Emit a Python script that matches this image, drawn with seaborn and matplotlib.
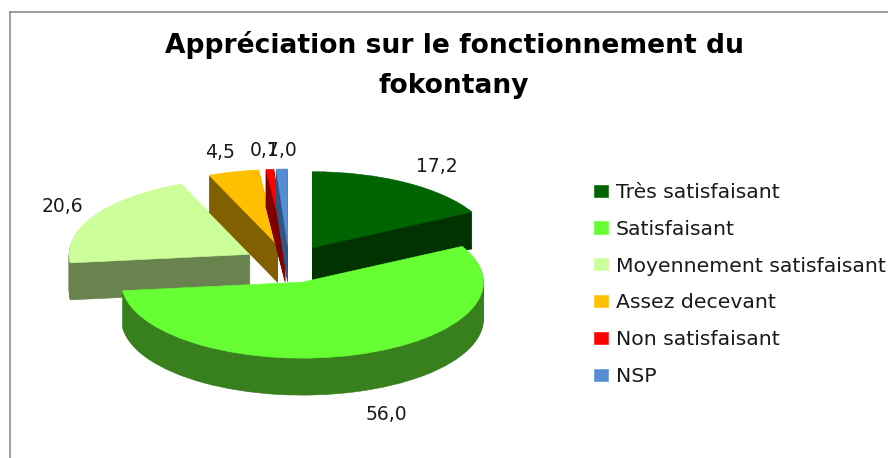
import matplotlib
matplotlib.use("Agg")
import matplotlib.pyplot as plt
import numpy as np
import seaborn as sns

categories = ["Très satisfaisant", "Satisfaisant", "Moyennement satisfaisant",
              "Assez decevant", "Non satisfaisant", "NSP"]
values = [17.2, 56.0, 20.6, 4.5, 0.7, 1.0]
title = "Appréciation sur le fonctionnement du\nfokontany"

top_colors = ["#006400", "#66FF33", "#CCFF99", "#FFC000", "#FF0000", "#558ED5"]
wall_colors = ["#003300", "#38801E", "#69834F", "#806000", "#800000", "#2F5582"]

sns.set_theme(style="white")
plt.rcParams["font.family"] = ["DejaVu Sans"]

W, H = 888, 458
fig = plt.figure(figsize=(W / 100, H / 100), dpi=100, facecolor="white")

# cadre du graphique (gauche + haut seulement, le reste sort de l'image)
cadre = fig.add_axes([9.5 / W, -0.1, 1.1, 1.1 - 12.5 / H])
cadre.set(xticks=[], yticks=[])
for side in ["right", "bottom"]:
    cadre.spines[side].set_visible(False)
for side in ["left", "top"]:
    cadre.spines[side].set_color("#8C8C8C")
    cadre.spines[side].set_linewidth(1.2)

ax = fig.add_axes([0, 0, 1, 1])
ax.patch.set_alpha(0)

# ellipse de la tarte en pixels
cx, cy, rx, ry = 289, 264, 181, 76
depth = 37
# ordre de dessin : la grande part passe devant les autres
draw_order = [0, 2, 3, 4, 5, 1]
explode = [0.25] * len(values)


def one_pie(colors, offset, z_extra):
    wedges, _ = ax.pie(values, explode=explode, colors=sns.color_palette(colors),
                       startangle=90, counterclock=False, radius=1,
                       center=(0, -offset))
    for i, w in enumerate(wedges):
        w.set_zorder(10 + draw_order.index(i) * 100 + z_extra)
        w.set_edgecolor(colors[i])
        w.set_linewidth(0.4)
    return wedges


# l'epaisseur : des tartes empilees, du bas vers le haut
for d in np.arange(depth, 0, -1):
    one_pie(wall_colors, d / ry, depth - d)
top = one_pie(top_colors, 0, depth + 1)

ax.set_aspect("auto")
ax.set_xlim(-cx / rx, (W - cx) / rx)
ax.set_ylim((cy - H) / ry, cy / ry)
ax.axis("off")

fig.text(454 / W, 1 - 65 / H, title, ha="center", va="center", fontsize=19.05,
         fontweight="bold", color="black", linespacing=1.72)

# etiquettes de valeurs (position en pixels)
label_px = [(437, 167), (386, 415), (62, 207), (220, 153), (265, 151), (282, 151)]
for v, (px, py) in zip(values, label_px):
    fig.text(px / W, 1 - py / H, f"{v:.1f}".replace(".", ","), ha="center", va="center",
             fontsize=13.5, color="#1A1A1A")

fs = 14.7
px2pt = 72 / 100
ax.legend(top, categories, loc="upper left", bbox_to_anchor=(594 / W, 1 - 183 / H),
          bbox_transform=fig.transFigure, frameon=False, fontsize=fs, borderpad=0,
          borderaxespad=0, handlelength=14 * px2pt / fs, handleheight=11 * px2pt / fs,
          handletextpad=8 * px2pt / fs, labelspacing=0.87, labelcolor="#1A1A1A")

fig.savefig("out.png", dpi=100)
